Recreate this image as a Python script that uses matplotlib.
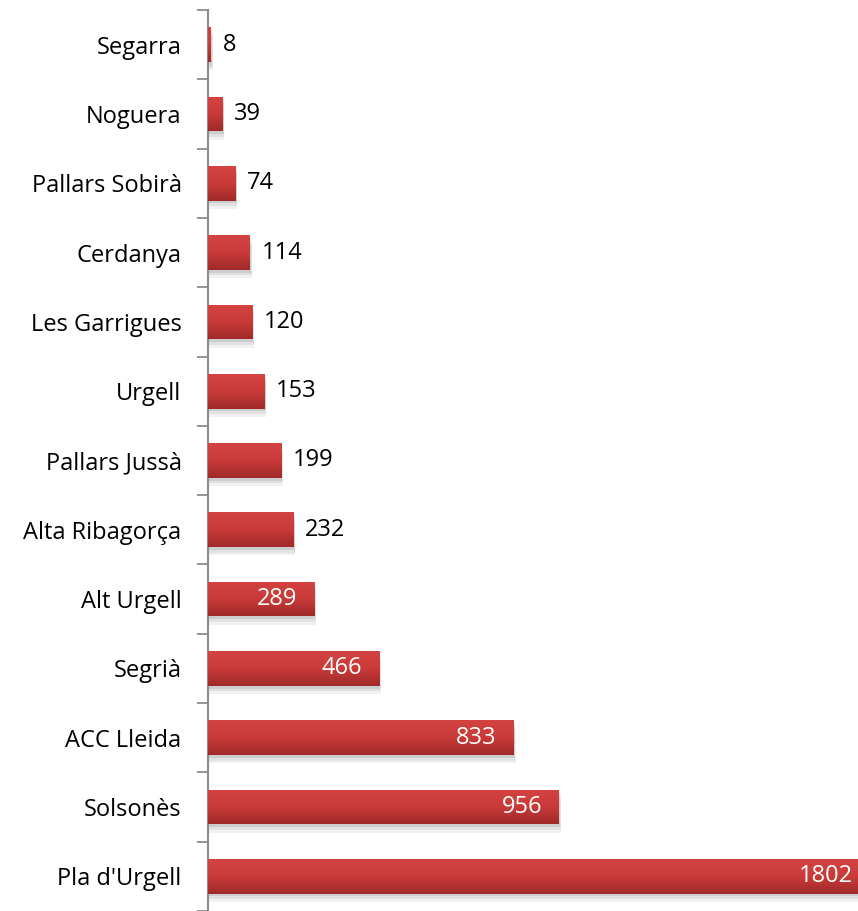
import numpy as np
import matplotlib.pyplot as plt
from matplotlib.patches import Rectangle
from matplotlib.colors import LinearSegmentedColormap

plt.rcParams['font.family'] = ['Open Sans', 'DejaVu Sans']

comarques = ['Segarra', 'Noguera', 'Pallars Sobirà', 'Cerdanya', 'Les Garrigues', 'Urgell',
             'Pallars Jussà', 'Alta Ribagorça', 'Alt Urgell', 'Segrià', 'ACC Lleida',
             'Solsonès', "Pla d'Urgell"]
valors = [8, 39, 74, 114, 120, 153, 199, 232, 289, 466, 833, 956, 1802]

fig = plt.figure(figsize=(8.58, 9.11), dpi=100)
ax = fig.add_axes([208 / 858, 0, 650 / 858, 901 / 911])

y = np.arange(len(comarques))
h = 0.5

# vertical gradient used to fill each bar
grad = np.linspace(0, 1, 64).reshape(-1, 1)
cmap = LinearSegmentedColormap.from_list('bar', ['#d24341', '#c93a38', '#a02a29'])

for yi, v in zip(y, valors):
    # soft shadow below the bar
    for k, a in zip([0.12, 0.08, 0.04], [0.08, 0.10, 0.14]):
        ax.add_patch(Rectangle((0, yi - h / 2 + k), v + 3 + k * 20, h, color='#555555',
                               alpha=a, lw=0, zorder=1))
    bar = Rectangle((0, yi - h / 2), v, h, facecolor='#c23a38', lw=0, zorder=2)
    ax.add_patch(bar)
    im = ax.imshow(grad, cmap=cmap, aspect='auto', extent=(0, v, yi + h / 2, yi - h / 2),
                   zorder=3, interpolation='bilinear')
    im.set_clip_path(bar)

    if v >= 289:
        ax.annotate(str(v), (v, yi), xytext=(-17, 0), textcoords='offset pixels',
                    ha='right', va='center', color='white', fontsize=17, zorder=5,
                    annotation_clip=False)
    else:
        ax.annotate(str(v), (v, yi), xytext=(12, 0), textcoords='offset pixels',
                    ha='left', va='center', color='black', fontsize=17, zorder=5)

ax.set_xlim(0, 1771)
ax.set_ylim(len(comarques) - 0.5, -0.5)

ax.set_yticks(y)
ax.set_yticklabels(comarques, fontsize=17)
ax.set_yticks(np.arange(-0.5, len(comarques)), minor=True)
ax.tick_params(axis='y', which='major', length=0, pad=19)
ax.tick_params(axis='y', which='minor', length=8, width=1.3, color='#8c8c8c', direction='out')
ax.set_xticks([])

for s in ['top', 'right', 'bottom']:
    ax.spines[s].set_visible(False)
ax.spines['left'].set_color('#8c8c8c')
ax.spines['left'].set_linewidth(1.5)

fig.savefig('out.png', dpi=100)
